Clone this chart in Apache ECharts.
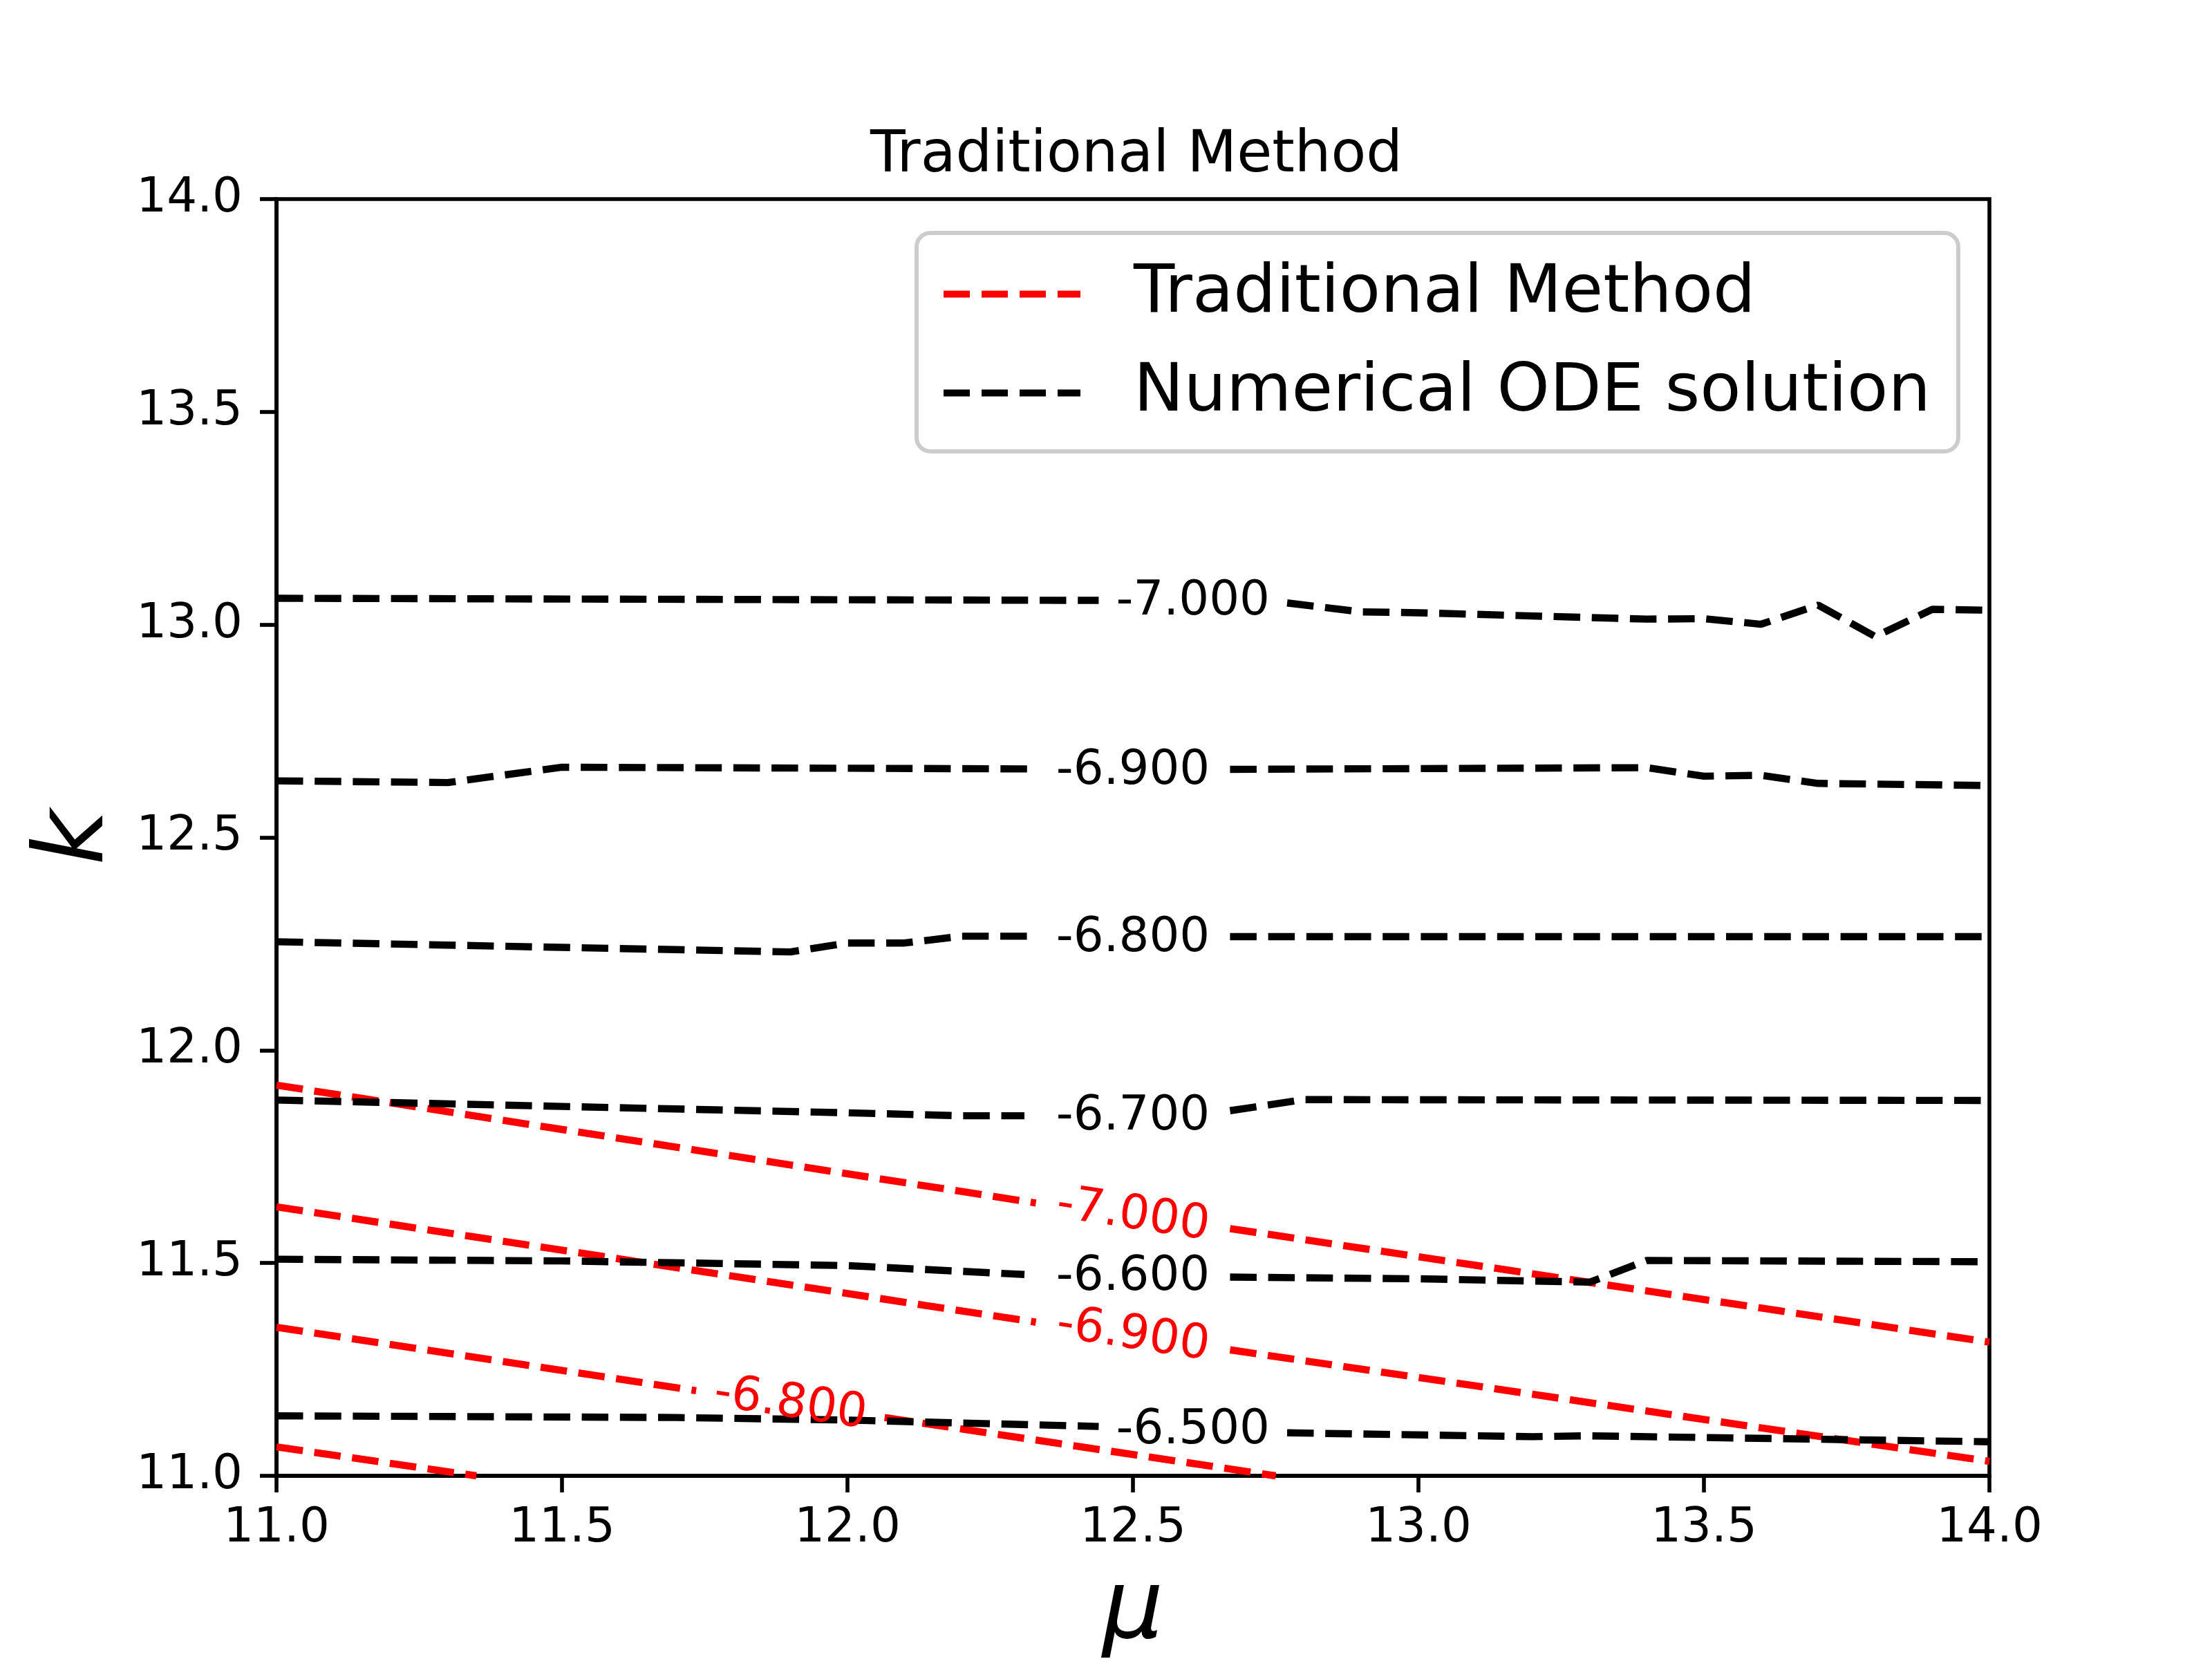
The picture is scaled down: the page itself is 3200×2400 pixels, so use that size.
<!DOCTYPE html>
<html lang="en">
<head>
    <meta charset="UTF-8">
    <title>Traditional Method</title>
    <style>
        html, body { margin: 0; padding: 0; background: #fff; }
    </style>
</head>
<body>

<div id="main" style="width:3200px; height:2400px;"></div>

<script src="https://cdn.jsdelivr.net/npm/echarts@6/dist/echarts.min.js"></script>
<script>
    // axis ranges
    var muMin = 11.0, muMax = 14.0, muStep = 0.5;
    var kMin = 11.0, kMax = 14.0, kStep = 0.5;

    // Numerical ODE solution contours [mu, k], '-' = break for the inline label
    var ode700 = [[11.0, 13.062], [12.44, 13.057], [12.6, '-'], [12.77, 13.051], [12.9, 13.030], [13.0, 13.028],
                  [13.4, 13.013], [13.5, 13.014], [13.6, 13.001], [13.7, 13.046], [13.8, 12.972], [13.9, 13.036], [14.0, 13.034]];
    var ode690 = [[11.0, 12.633], [11.3, 12.629], [11.5, 12.665], [12.32, 12.661], [12.5, '-'], [12.67, 12.660],
                  [13.4, 12.664], [13.5, 12.644], [13.6, 12.646], [13.7, 12.627], [14.0, 12.622]];
    var ode680 = [[11.0, 12.255], [11.9, 12.231], [12.0, 12.252], [12.1, 12.252], [12.2, 12.268], [12.33, 12.268],
                  [12.5, '-'], [12.67, 12.267], [14.0, 12.267]];
    var ode670 = [[11.0, 11.883], [11.5, 11.868], [12.0, 11.853], [12.2, 11.846], [12.31, 11.846], [12.5, '-'],
                  [12.67, 11.858], [12.7, 11.864], [12.8, 11.884], [14.0, 11.882]];
    var ode660 = [[11.0, 11.509], [11.5, 11.505], [12.0, 11.494], [12.31, 11.473], [12.5, '-'], [12.67, 11.467],
                  [13.0, 11.463], [13.3, 11.455], [13.4, 11.506], [14.0, 11.503]];
    var ode650 = [[11.0, 11.141], [11.7, 11.137], [12.0, 11.131], [12.44, 11.116], [12.6, '-'], [12.77, 11.101],
                  [13.2, 11.092], [13.3, 11.094], [14.0, 11.080]];

    // Traditional Method contours
    var trad700 = [[11.0, 11.918], [12.33, 11.641], [12.5, '-'], [12.67, 11.581], [14.0, 11.314]];
    var trad690 = [[11.0, 11.632], [12.33, 11.361], [12.5, '-'], [12.67, 11.296], [14.0, 11.034]];
    var trad680 = [[11.0, 11.349], [11.735, 11.200], [11.9, '-'], [12.065, 11.137], [12.75, 11.0]];
    var trad670 = [[11.0, 11.068], [11.35, 11.0]];

    // inline contour labels [mu, k, text]
    var odeLabels = [[12.605, 13.053, '-7.000'], [12.5, 12.655, '-6.900'], [12.5, 12.262, '-6.800'],
                     [12.5, 11.843, '-6.700'], [12.5, 11.466, '-6.600'], [12.605, 11.105, '-6.500']];
    var tradLabels = [[12.5, 11.611, '-7.000'], [12.5, 11.329, '-6.900'], [11.9, 11.168, '-6.800']];

    var FONT = 'DejaVu Sans';
    var dash = [38.5, 16.7];
    // four dashes, as in the legend handle
    var dashIcon = 'path://M0,0H38V10H0Z M55,0H93V10H55Z M110,0H148V10H110Z M165,0H198V10H165Z';

    function contour(name, color, data) {
        return {
            name: name,
            type: 'line',
            data: data,
            symbol: 'none',
            showSymbol: false,
            connectNulls: false,
            clip: true,
            lineStyle: { color: color, width: 10.4, type: dash, cap: 'butt' },
            itemStyle: { color: color },
            z: 3
        };
    }

    function labels(data, color, rot) {
        return {
            name: 'labels',
            type: 'scatter',
            data: data,
            symbolSize: 1,
            itemStyle: { color: 'rgba(0,0,0,0)', opacity: 1 },
            silent: true,
            z: 5,
            label: {
                show: true,
                position: 'inside',
                formatter: function (p) { return p.data[2]; },
                color: color,
                textBorderWidth: 0,
                fontSize: 69,
                fontFamily: FONT,
                rotate: rot
            }
        };
    }

    var chart = echarts.init(document.getElementById('main'));

    var series = [];
    [trad700, trad690, trad680, trad670].forEach(function (d) {
        series.push(contour('Traditional Method', '#ff0000', d));
    });
    [ode700, ode690, ode680, ode670, ode660, ode650].forEach(function (d) {
        series.push(contour('Numerical ODE solution', '#000000', d));
    });
    series.push(labels(odeLabels, '#000000', 0));
    series.push(labels(tradLabels, '#ff0000', -8.6));

    var axisCommon = {
        type: 'value',
        nameLocation: 'middle',
        nameTextStyle: { fontSize: 139, fontStyle: 'italic', fontFamily: FONT, color: '#000' },
        axisLine: { show: true, onZero: false, lineStyle: { color: '#000', width: 5.6 } },
        axisTick: { show: true, inside: false, length: 24, lineStyle: { color: '#000', width: 5.6 } },
        axisLabel: {
            fontSize: 69, fontFamily: FONT, color: '#000',
            formatter: function (v) { return v.toFixed(1); }
        },
        splitLine: { show: false }
    };

    chart.setOption({
        animation: false,
        backgroundColor: '#fff',
        textStyle: { fontFamily: FONT },
        title: {
            text: 'Traditional Method',
            left: 1639,
            top: 180,
            textAlign: 'center',
            textStyle: { fontSize: 83, fontWeight: 'normal', color: '#000', fontFamily: FONT }
        },
        legend: {
            data: [
                { name: 'Traditional Method', icon: dashIcon },
                { name: 'Numerical ODE solution', icon: dashIcon }
            ],
            orient: 'vertical',
            left: 1326,
            top: 337,
            padding: [40, 40, 36, 39],
            itemGap: 46,
            itemWidth: 198,
            itemHeight: 10,
            backgroundColor: 'rgba(255,255,255,0.8)',
            borderColor: '#cccccc',
            borderWidth: 6,
            borderRadius: 20,
            textStyle: { fontSize: 97, color: '#000', fontFamily: FONT, padding: [0, 0, 0, 72] }
        },
        grid: {
            left: 400,
            right: 322,
            top: 288,
            bottom: 265,
            show: true,
            borderColor: '#000',
            borderWidth: 5.6,
            containLabel: false,
            outerBoundsMode: 'none'
        },
        xAxis: echarts.util.merge({
            min: muMin, max: muMax, interval: muStep,
            name: 'μ',
            nameGap: 128,
            axisLabel: { margin: 43 }
        }, axisCommon),
        yAxis: echarts.util.merge({
            min: kMin, max: kMax, interval: kStep,
            name: 'k',
            nameGap: 219,
            axisLabel: { margin: 49 }
        }, axisCommon),
        series: series
    });
</script>
</body>
</html>
